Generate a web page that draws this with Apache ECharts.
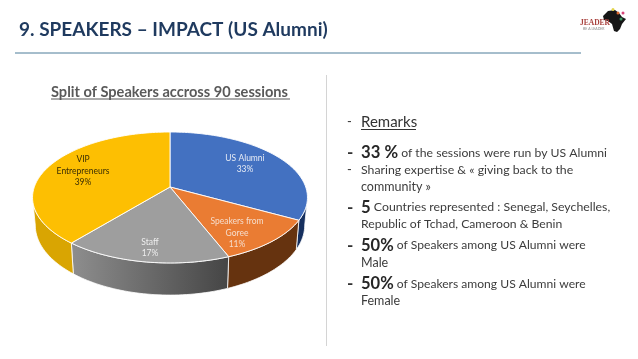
<!DOCTYPE html>
<html>
<head>
<meta charset="utf-8">
<style>
    html, body { margin: 0; padding: 0; background: #fff; }
    #main { width: 638px; height: 359px; }
</style>
<script src="https://cdn.jsdelivr.net/npm/echarts@6/dist/echarts.min.js"></script>
</head>
<body>
<div id="main"></div>
<script>
// chart data
var categories = ['US Alumni', 'Speakers from\nGoree', 'Staff', 'VIP\nEntrepreneurs'];
var percents = [33, 11, 17, 39];

var titleText = '9. SPEAKERS \u2013 IMPACT (US Alumni)';
var chartTitle = 'Split of Speakers accross 90 sessions';

// right hand text, one row per line
var remarkLines = [
    '{big|33 %} of the sessions were run by US Alumni',
    'Sharing expertise & \u00ab giving back to the',
    'community \u00bb',
    '{big|5} Countries represented : Senegal, Seychelles,',
    'Republic of Tchad, Cameroon & Benin',
    '{big|50%} of Speakers among US Alumni were',
    'Male',
    '{big|50%} of Speakers among US Alumni were',
    'Female'
];

// styles of the slices
var topColors = ['#4371c1', '#ea7c33', '#9e9e9e', '#fdbf02'];
var wallColors = [
    ['#16305f', '#16305f'],
    ['#66330f', '#66330f'],
    ['#8e8e8e', '#454545'],
    ['#d9a502', '#d9a502']
];
var labelColors = ['#e6ebf5', '#f5dccb', '#eeeeee', '#3a2e05'];
var labelPos = [[245, 164], [237, 233], [150, 248], [83, 171]];

// projection of the tilted disc, fitted to the picture
var cx = 170, cy = 187, rx = 135.7, ry = 63.8, k = 0.16, depth = 27;

function project(angle, down) {
    var x = Math.sin(angle), y = -Math.cos(angle);
    var w = 1 - k * y;
    var px = x * rx / w, py = y * ry / w;
    if (down) {
        px = px * 0.98;
        py = py + depth / w;
    }
    return [cx + px, cy + py];
}

function sliceAngles(i) {
    var sum = 0, before = 0;
    for (var n = 0; n < percents.length; n++) {
        if (n < i) before += percents[n];
        sum += percents[n];
    }
    return [before / sum * 2 * Math.PI, (before + percents[i]) / sum * 2 * Math.PI];
}

function arcPoints(a0, a1, down) {
    var pts = [];
    var steps = Math.max(2, Math.ceil((a1 - a0) * 40));
    for (var s = 0; s <= steps; s++) {
        pts.push(project(a0 + (a1 - a0) * s / steps, down));
    }
    return pts;
}

function renderWall(params, api) {
    var i = params.dataIndex;
    var ang = sliceAngles(i);
    // only the front of the rim can be seen
    var front0 = Math.acos(-k), front1 = 2 * Math.PI - front0;
    var a0 = Math.max(ang[0], front0), a1 = Math.min(ang[1], front1);
    if (a1 <= a0) return null;
    var pts = arcPoints(a0, a1, false).concat(arcPoints(a0, a1, true).reverse());
    return {
        type: 'polygon',
        shape: { points: pts },
        style: {
            fill: new echarts.graphic.LinearGradient(0, 0, 1, 0, [
                { offset: 0, color: wallColors[i][0] },
                { offset: 1, color: wallColors[i][1] }
            ]),
            stroke: '#ffffff',
            lineWidth: 0.8
        }
    };
}

function renderTop(params, api) {
    var i = params.dataIndex;
    var ang = sliceAngles(i);
    var pts = [[cx, cy]].concat(arcPoints(ang[0], ang[1], false));
    return {
        type: 'group',
        children: [{
            type: 'polygon',
            shape: { points: pts },
            style: { fill: topColors[i], stroke: '#ffffff', lineWidth: 0.9 }
        }, {
            type: 'text',
            z2: 5,
            style: {
                x: labelPos[i][0],
                y: labelPos[i][1],
                text: categories[i] + '\n' + api.value(0) + '%',
                align: 'center',
                verticalAlign: 'middle',
                lineHeight: 11.5,
                font: '8.5px Lato',
                fill: labelColors[i]
            }
        }]
    };
}

var graphics = [
    { type: 'line', shape: { x1: 15, y1: 53, x2: 581, y2: 53 }, style: { stroke: '#4d7c99', lineWidth: 1 } },
    { type: 'line', shape: { x1: 51, y1: 99, x2: 290, y2: 99 }, style: { stroke: '#595959', lineWidth: 1 } },
    { type: 'line', shape: { x1: 326.5, y1: 75, x2: 326.5, y2: 346 }, style: { stroke: '#d4d4d4', lineWidth: 1 } },
    { type: 'text', style: { x: 347, y: 122, text: '-', font: '13px Lato', fill: '#333', verticalAlign: 'middle' } },
    { type: 'text', style: { x: 361, y: 122, text: 'Remarks', font: '15px Lato', fill: '#333', verticalAlign: 'middle' } },
    { type: 'line', shape: { x1: 361, y1: 129.5, x2: 416, y2: 129.5 }, style: { stroke: '#333', lineWidth: 1 } }
];

var lineY = [153, 170, 186.5, 207.5, 224, 245.5, 263, 284, 301];
var lineSize = [12.1, 12.3, 12.5, 12.2, 12.2, 12.1, 12.5, 12.1, 12.5];
var lineStretch = [1.01, 1, 1, 1.01, 1, 1, 1, 1, 1];
var dashRows = [0, 1, 3, 5, 7];
for (var r = 0; r < remarkLines.length; r++) {
    graphics.push({
        type: 'text',
        x: 361,
        y: lineY[r],
        scaleX: lineStretch[r],
        style: {
            text: remarkLines[r],
            font: lineSize[r] + 'px Lato',
            fill: '#3c3c3c',
            verticalAlign: 'middle',
            rich: {
                big: { font: 'bold 16.5px Lato', fill: '#262626', verticalAlign: 'bottom' }
            }
        }
    });
}
for (var d = 0; d < dashRows.length; d++) {
    graphics.push({
        type: 'text',
        style: {
            x: 347,
            y: lineY[dashRows[d]],
            text: '-',
            font: (dashRows[d] == 1 ? '13px' : 'bold 17px') + ' Lato',
            fill: '#333',
            verticalAlign: 'middle'
        }
    });
}

// logo top right
graphics.push(
    { type: 'polygon', shape: { points: [[603, 16], [608, 11], [615, 10], [619, 13], [622, 17], [626, 19], [622, 24], [620, 29], [617, 32], [614, 31], [612, 24], [608, 21], [604, 20]] }, style: { fill: '#161616' } },
    { type: 'circle', shape: { cx: 613, cy: 9.5, r: 1.5 }, style: { fill: '#e3d44a' } },
    { type: 'circle', shape: { cx: 623, cy: 13, r: 1.5 }, style: { fill: '#d8457a' } },
    { type: 'circle', shape: { cx: 618, cy: 13, r: 1.5 }, style: { fill: '#d9662c' } },
    { type: 'circle', shape: { cx: 621, cy: 19, r: 1.5 }, style: { fill: '#3f9a63' } },
    { type: 'text', style: { x: 580, y: 19, text: 'JEADER', font: 'bold 7.5px "Liberation Serif"', fill: '#a8403c' } },
    { type: 'text', style: { x: 583, y: 27, text: 'BE A LEADER', font: '3.5px Lato', fill: '#888' } }
);

var myChart = echarts.init(document.getElementById('main'));

var option = {
    backgroundColor: '#ffffff',
    animation: false,
    title: [{
        text: titleText,
        left: 19,
        top: 20,
        padding: 0,
        textStyle: { fontFamily: 'Lato', fontWeight: 'bold', fontSize: 19, color: '#1f3a5f' }
    }, {
        text: chartTitle,
        left: 51,
        top: 85,
        padding: 0,
        textStyle: { fontFamily: 'Lato', fontWeight: 'bold', fontSize: 14.6, color: '#595959' }
    }],
    graphic: graphics,
    series: [{
        type: 'custom',
        coordinateSystem: 'none',
        silent: true,
        z: 1,
        data: percents,
        renderItem: renderWall
    }, {
        type: 'custom',
        coordinateSystem: 'none',
        silent: true,
        z: 2,
        data: percents,
        renderItem: renderTop
    }]
};
myChart.setOption(option);
</script>
</body>
</html>
